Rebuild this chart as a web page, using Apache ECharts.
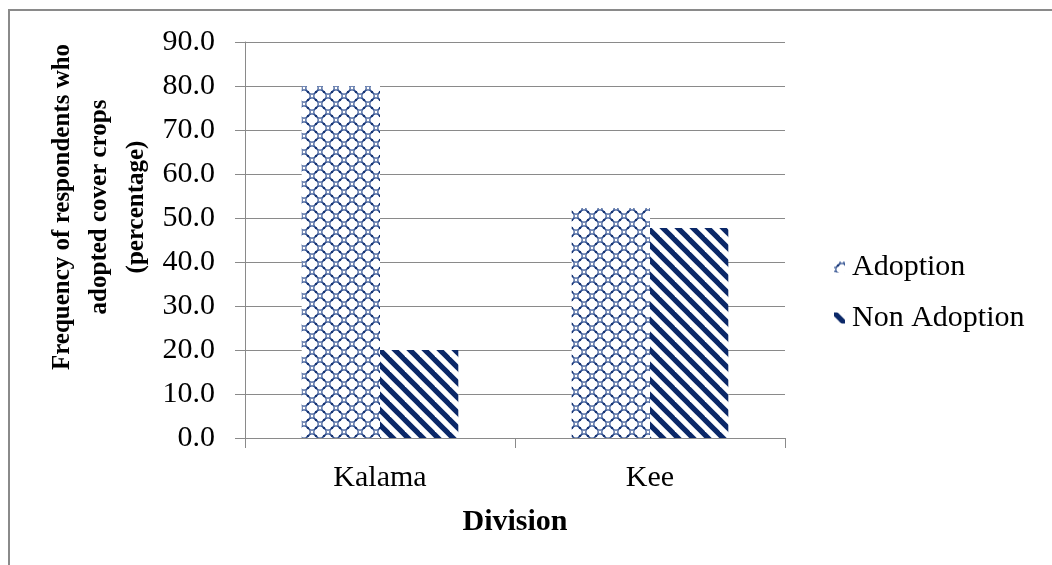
<!DOCTYPE html>
<html>
<head>
<meta charset="utf-8">
<script src="https://cdn.jsdelivr.net/npm/echarts@6/dist/echarts.min.js"></script>
<style>
  html, body { margin: 0; padding: 0; background: #fff; }
  #chart { width: 1052px; height: 565px; }
</style>
</head>
<body>
<div id="chart"></div>
<script>
// Survey data: share of respondents per division
const divisions = ['Kalama', 'Kee'];
const adoption = [80.0, 52.3];
const nonAdoption = [20.0, 47.7];
const seriesNames = ['Adoption', 'Non Adoption'];
const yTicks = [0, 10, 20, 30, 40, 50, 60, 70, 80, 90];

const SERIF = '"Liberation Serif", "Times New Roman", serif';

// Lattice fill: overlapping rings on a centred square grid
function latticeTile() {
  const s = 16;
  const c = document.createElement('canvas');
  c.width = s; c.height = s;
  const g = c.getContext('2d');
  g.fillStyle = '#fff';
  g.fillRect(0, 0, s, s);
  g.strokeStyle = '#2f4f90';
  g.lineWidth = 1.2;
  const centres = [[0, 0], [s, 0], [0, s], [s, s], [s / 2, s / 2]];
  centres.forEach(([cx, cy]) => {
    g.beginPath();
    g.arc(cx, cy, 6.2, 0, Math.PI * 2);
    g.stroke();
  });
  g.fillStyle = '#1a3672';
  [[s / 4, s / 4], [3 * s / 4, s / 4], [s / 4, 3 * s / 4], [3 * s / 4, 3 * s / 4]].forEach(([x, y]) => {
    g.fillRect(x - 1, y - 1, 2, 2);
  });
  return c;
}

// Diagonal stripe fill running top-left to bottom-right
function stripeTile() {
  const s = 15;
  const c = document.createElement('canvas');
  c.width = s; c.height = s;
  const g = c.getContext('2d');
  g.fillStyle = '#fff';
  g.fillRect(0, 0, s, s);
  g.strokeStyle = '#0b2868';
  g.lineWidth = 5.2;
  for (let k = -1; k <= 1; k++) {
    g.beginPath();
    g.moveTo(k * s - 3, -3);
    g.lineTo(k * s + s + 3, s + 3);
    g.stroke();
  }
  return c;
}

const latticeFill = { image: latticeTile(), repeat: 'repeat' };
const stripeFill = { image: stripeTile(), repeat: 'repeat' };

const chart = echarts.init(document.getElementById('chart'), null, { renderer: 'canvas' });

chart.setOption({
  backgroundColor: '#fff',
  animation: false,
  textStyle: { fontFamily: SERIF, color: '#000' },
  graphic: [
    {
      type: 'rect',
      shape: { x: 9, y: 10, width: 1200, height: 700 },
      style: { fill: 'none', stroke: '#8a8a8a', lineWidth: 2 },
      silent: true
    },
    {
      type: 'text',
      x: 100,
      y: 207,
      rotation: Math.PI / 2,
      style: {
        text: 'Frequency of respondents who\nadopted cover crops\n(percentage)',
        font: 'bold 25px ' + SERIF,
        fill: '#000',
        align: 'center',
        verticalAlign: 'middle',
        lineHeight: 37
      }
    }
  ],
  grid: { left: 245, right: 267, top: 42, bottom: 127, containLabel: false },
  legend: {
    orient: 'vertical',
    left: 829,
    top: 247,
    itemWidth: 11,
    itemHeight: 11,
    itemGap: 21,
    icon: 'rect',
    textStyle: { fontFamily: SERIF, fontSize: 30, color: '#000', padding: [0, 0, 0, 2] },
    data: seriesNames
  },
  xAxis: {
    type: 'category',
    data: divisions,
    boundaryGap: true,
    axisLine: { show: true, lineStyle: { color: '#8a8a8a', width: 1 } },
    axisTick: { show: true, alignWithLabel: false, length: 10, lineStyle: { color: '#8a8a8a' } },
    axisLabel: { fontFamily: SERIF, fontSize: 30, color: '#000', margin: 25 },
    name: 'Division',
    nameLocation: 'middle',
    nameGap: 69,
    nameTextStyle: { fontFamily: SERIF, fontSize: 30, fontWeight: 'bold', color: '#000' }
  },
  yAxis: {
    type: 'value',
    min: yTicks[0],
    max: yTicks[yTicks.length - 1],
    interval: yTicks[1] - yTicks[0],
    axisLine: { show: true, lineStyle: { color: '#8a8a8a', width: 1 } },
    axisTick: { show: true, inside: false, length: 10, lineStyle: { color: '#8a8a8a' } },
    splitLine: { show: true, lineStyle: { color: '#8a8a8a', width: 1 } },
    axisLabel: {
      fontFamily: SERIF,
      fontSize: 30,
      color: '#000',
      margin: 30,
      formatter: v => v.toFixed(1)
    }
  },
  series: [
    {
      name: seriesNames[0],
      type: 'bar',
      data: adoption,
      barGap: '0%',
      barCategoryGap: '42%',
      itemStyle: { color: latticeFill }
    },
    {
      name: seriesNames[1],
      type: 'bar',
      data: nonAdoption,
      barGap: '0%',
      barCategoryGap: '42%',
      itemStyle: { color: stripeFill }
    }
  ]
});
</script>
</body>
</html>
